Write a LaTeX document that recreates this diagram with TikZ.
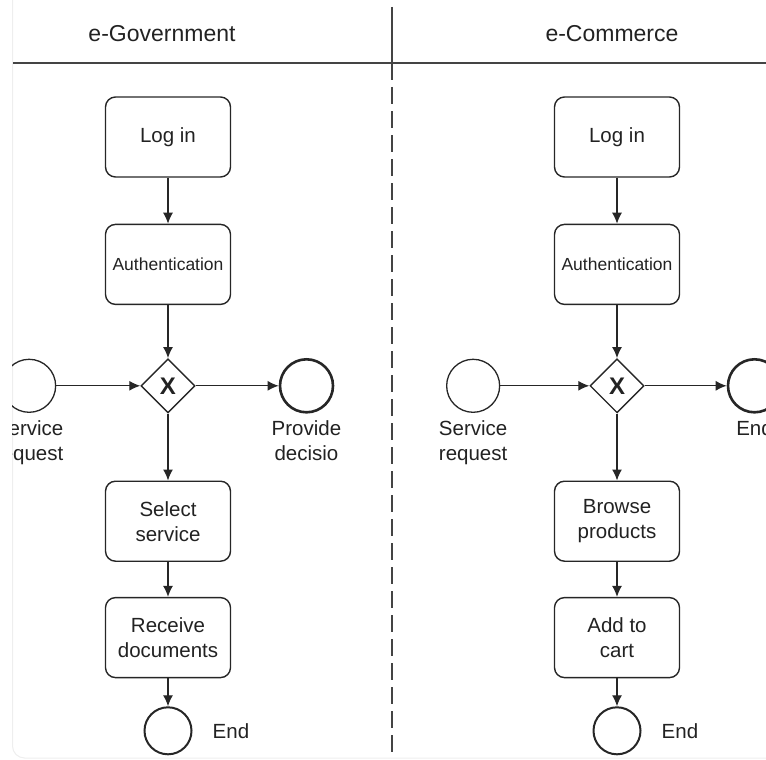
\documentclass[tikz,border=0pt]{standalone}
\usepackage{fontspec}
\setmainfont{Liberation Sans}
\usetikzlibrary{positioning}
\usetikzlibrary{shapes.geometric}
\usetikzlibrary{arrows.meta}

\definecolor{linegray}{HTML}{262626}
\definecolor{textgray}{HTML}{222222}
\definecolor{lanegray}{HTML}{444444}
\definecolor{framegray}{HTML}{EEEEEE}

\begin{document}
\begin{tikzpicture}[x=1pt, y=-1pt,
    every node/.style={text=textgray},
    task/.style={draw=linegray, line width=1.4pt, rounded corners=10pt, minimum width=125pt, minimum height=80pt, inner sep=2pt, align=center, font=\fontsize{20.5}{25}\selectfont},
    small/.style={font=\fontsize{17.5}{21}\selectfont},
    gateway/.style={draw=linegray, line width=1.4pt, diamond, aspect=1, minimum width=54pt, minimum height=54pt, inner sep=0pt, font=\fontsize{24}{24}\selectfont\bfseries},
    startev/.style={draw=linegray, line width=1.3pt, circle, minimum size=53pt, inner sep=0pt},
    endev/.style={draw=linegray, line width=2.6pt, circle, minimum size=53pt, inner sep=0pt},
    stopev/.style={draw=linegray, line width=2pt, circle, minimum size=47pt, inner sep=0pt},
    caption/.style={inner sep=0pt, align=center, font=\fontsize{20.5}{25}\selectfont},
    lanetitle/.style={font=\fontsize{23}{23}\selectfont},
    flow/.style={draw=linegray, line width=1.3pt, -{Latex[length=11pt, width=10pt]}}]

    \useasboundingbox (0,0) rectangle (766,760);
    \draw[framegray, line width=1pt, rounded corners=12pt] (12.5,-20) rectangle (790,758);
    \clip (12,0) rectangle (766,757.5);

    \coordinate (headl) at (13,63);
    \coordinate (headr) at (770,63);
    \coordinate (lanetop) at (392,7);
    \coordinate (lanemid) at (392,63);
    \coordinate (lanebot) at (392,765);

    \draw[lanegray, line width=1.6pt] (headl) -- (headr);
    \draw[lanegray, line width=1.6pt] (lanetop) -- (lanemid);
    \draw[lanegray, line width=1.6pt, dash pattern=on 17pt off 7pt] (lanemid) -- (lanebot);

    \node[lanetitle] (govtitle) at (162,34) {e-Government};
    \node[lanetitle] (comtitle) at (612,34) {e-Commerce};

    \node[task] (govlogin) at (168,137) {Log in};
    \node[task, small, below=46pt of govlogin] (govauth) {Authentication};
    \node[gateway, below=53pt of govauth] (govgate) {X};
    \node[startev, left=84pt of govgate] (govstart) {};
    \node[endev, right=83pt of govgate] (govdecide) {};
    \node[task, below=67pt of govgate] (govselect) {Select\\service};
    \node[task, below=35pt of govselect] (govreceive) {Receive\\documents};
    \node[stopev, below=28pt of govreceive] (govend) {};

    \node[caption, below=7pt of govstart] (govstartlbl) {Service\\request};
    \node[caption, below=7pt of govdecide] (govdecidelbl) {Provide\\decisio};
    \node[caption, right=20pt of govend] (govendlbl) {End};

    \node[task] (comlogin) at (617,137) {Log in};
    \node[task, small, below=46pt of comlogin] (comauth) {Authentication};
    \node[gateway, below=53pt of comauth] (comgate) {X};
    \node[startev, left=89pt of comgate] (comstart) {};
    \node[endev, right=82pt of comgate] (comfinish) {};
    \node[task, below=67pt of comgate] (combrowse) {Browse\\products};
    \node[task, below=35pt of combrowse] (comcart) {Add to\\cart};
    \node[stopev, below=28pt of comcart] (comend) {};

    \node[caption, below=7pt of comstart] (comstartlbl) {Service\\request};
    \node[caption, below=7pt of comfinish] (comfinishlbl) {End};
    \node[caption, right=20pt of comend] (comendlbl) {End};

    \draw[flow] (govlogin) -- (govauth);
    \draw[flow] (govauth) -- (govgate);
    \draw[flow] (govstart) -- (govgate);
    \draw[flow] (govgate) -- (govdecide);
    \draw[flow] (govgate) -- (govselect);
    \draw[flow] (govselect) -- (govreceive);
    \draw[flow] (govreceive) -- (govend);

    \draw[flow] (comlogin) -- (comauth);
    \draw[flow] (comauth) -- (comgate);
    \draw[flow] (comstart) -- (comgate);
    \draw[flow] (comgate) -- (comfinish);
    \draw[flow] (comgate) -- (combrowse);
    \draw[flow] (combrowse) -- (comcart);
    \draw[flow] (comcart) -- (comend);

\end{tikzpicture}
\end{document}
